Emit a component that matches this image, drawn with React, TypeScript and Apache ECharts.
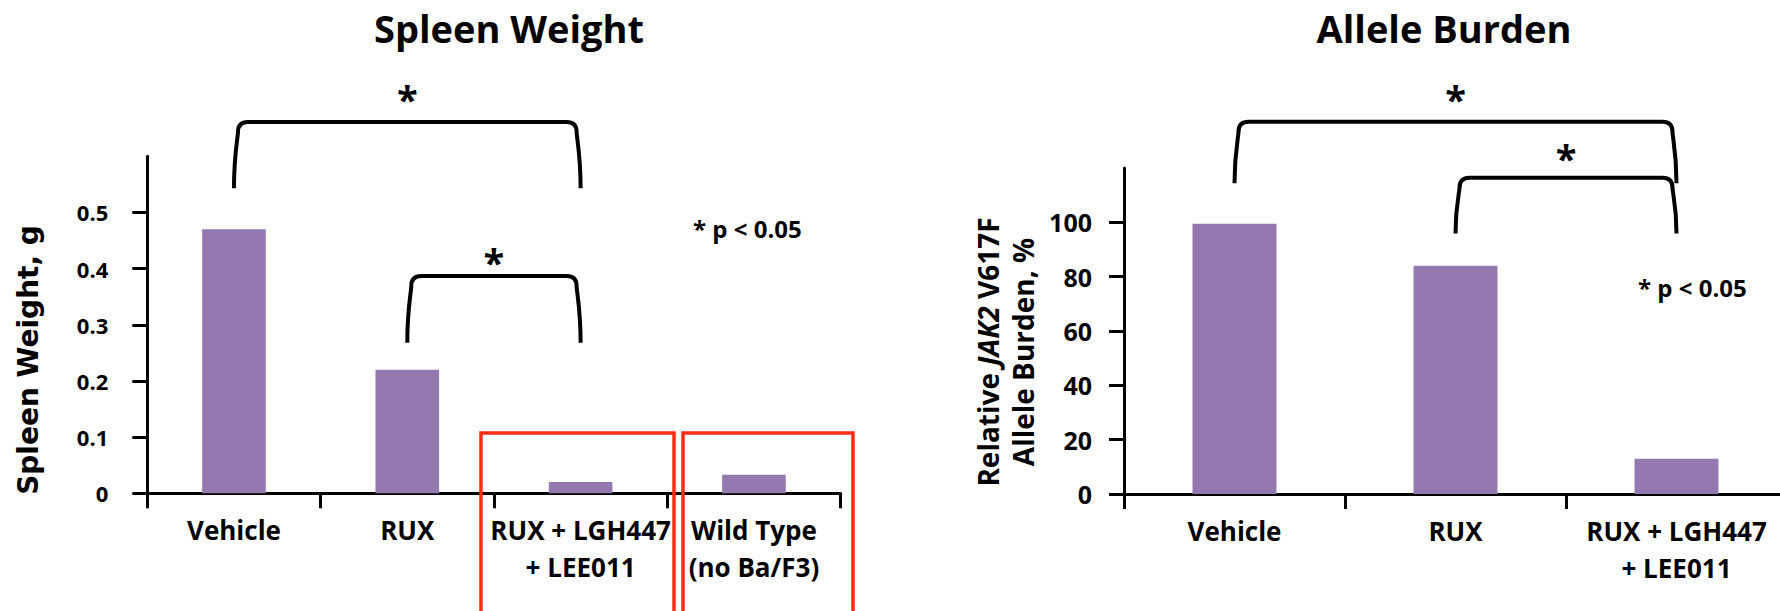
import React, { useEffect, useRef } from "react";
import * as echarts from "echarts";

// ---- Data ----
const spleenCategories = ["Vehicle", "RUX", "RUX + LGH447\n+ LEE011", "Wild Type\n(no Ba/F3)"];
const spleenWeights = [0.47, 0.22, 0.02, 0.033];
const spleenTicks = [0, 0.1, 0.2, 0.3, 0.4, 0.5];
// [fromCategory, toCategory, bracketTop, legBottom, asteriskY]
const spleenBrackets = [
  [0, 2, 0.661, 0.543, 0.714],
  [1, 2, 0.387, 0.268, 0.424],
];

const alleleCategories = ["Vehicle", "RUX", "RUX + LGH447\n+ LEE011"];
const alleleBurden = [99.5, 84, 13];
const alleleTicks = [0, 20, 40, 60, 80, 100];
const alleleBrackets = [
  [0, 2, 137, 114.4, 148],
  [1, 2, 116.4, 95.9, 126.3],
];

const spleenTitle = "Spleen Weight";
const alleleTitle = "Allele Burden";
const pNote = "* p < 0.05";

const FONT = '"Open Sans", sans-serif';
const BAR = "#9379B0";
const RED = "#FF2D14";

const renderBracket = (params: any, api: any) => {
  const a = api.coord([api.value(0), api.value(2)]);
  const b = api.coord([api.value(1), api.value(2)]);
  const yb = api.coord([api.value(0), api.value(3)])[1];
  const ys = api.coord([api.value(0), api.value(4)])[1];
  const r = 10;
  const lean = 4;
  const xl = a[0];
  const xr = b[0];
  const yt = a[1];
  const d =
    `M${xl},${yb} C${xl},${yt + (yb - yt) * 0.5} ${xl + lean},${yt + r * 1.5} ${xl + lean},${yt + r} ` +
    `Q${xl + lean},${yt} ${xl + lean + r},${yt} L${xr - lean - r},${yt} ` +
    `Q${xr - lean},${yt} ${xr - lean},${yt + r} C${xr - lean},${yt + r * 1.5} ${xr},${yt + (yb - yt) * 0.5} ${xr},${yb}`;
  return {
    type: "group",
    children: [
      {
        type: "path",
        shape: { pathData: d },
        style: { fill: "none", stroke: "#000", lineWidth: 4 },
      },
      {
        type: "text",
        x: (xl + xr) / 2,
        y: ys + 7,
        style: {
          text: "*",
          fill: "#000",
          fontFamily: FONT,
          fontWeight: "bold",
          fontSize: 38,
          align: "center",
          verticalAlign: "middle",
          textAlign: "center",
          textVerticalAlign: "middle",
        },
      },
    ],
  };
};

const axisLineStyle = { color: "#000", width: 3 };

function makeXAxis(gridIndex: number, data: string[]) {
  return {
    gridIndex,
    type: "category",
    data,
    axisLine: { show: true, lineStyle: axisLineStyle },
    axisTick: { show: true, length: 15, lineStyle: axisLineStyle },
    axisLabel: {
      interval: 0,
      margin: 18,
      color: "#000",
      fontFamily: FONT,
      fontWeight: "bold",
      fontSize: 26,
      lineHeight: 37,
    },
    splitLine: { show: false },
  };
}

export default function App() {
  const ref = useRef<HTMLDivElement>(null);

  useEffect(() => {
    if (!ref.current) return;
    const chart = echarts.init(ref.current, null, { renderer: "svg" });
    const option: any = {
      animation: false,
      backgroundColor: "#fff",
      title: [
        {
          text: spleenTitle,
          left: 509,
          top: 9,
          padding: 0,
          textAlign: "center",
          textStyle: { fontFamily: FONT, fontWeight: "bold", fontSize: 38, color: "#000" },
        },
        {
          text: alleleTitle,
          left: 1444,
          top: 9,
          padding: 0,
          textAlign: "center",
          textStyle: { fontFamily: FONT, fontWeight: "bold", fontSize: 38, color: "#000" },
        },
      ],
      grid: [
        { left: 147.3, top: 156.3, width: 693.3, height: 337, containLabel: false, outerBoundsMode: "none" },
        { left: 1124, top: 168, width: 663, height: 326, containLabel: false, outerBoundsMode: "none" },
      ],
      xAxis: [makeXAxis(0, spleenCategories), makeXAxis(1, alleleCategories)],
      yAxis: [
        {
          gridIndex: 0,
          type: "value",
          min: 0,
          max: 0.6,
          interval: 0.1,
          axisLine: { show: true, lineStyle: axisLineStyle },
          axisTick: { show: true, length: 15, lineStyle: axisLineStyle, customValues: spleenTicks },
          axisLabel: {
            customValues: spleenTicks,
            formatter: (v: number) => (v === 0 ? "0" : v.toFixed(1)),
            margin: 39,
            color: "#000",
            fontFamily: FONT,
            fontWeight: "bold",
            fontSize: 22,
          },
          splitLine: { show: false },
        },
        {
          gridIndex: 1,
          type: "value",
          min: 0,
          max: 120,
          interval: 20,
          axisLine: { show: true, lineStyle: axisLineStyle },
          axisTick: { show: true, length: 15, lineStyle: axisLineStyle, customValues: alleleTicks },
          axisLabel: {
            customValues: alleleTicks,
            margin: 32,
            color: "#000",
            fontFamily: FONT,
            fontWeight: "bold",
            fontSize: 25,
          },
          splitLine: { show: false },
        },
      ],
      series: [
        {
          type: "bar",
          xAxisIndex: 0,
          yAxisIndex: 0,
          data: spleenWeights,
          barWidth: "36.7%",
          itemStyle: { color: BAR },
          silent: true,
        },
        {
          type: "bar",
          xAxisIndex: 1,
          yAxisIndex: 1,
          data: alleleBurden,
          barWidth: "38%",
          itemStyle: { color: BAR },
          silent: true,
        },
        {
          type: "custom",
          xAxisIndex: 0,
          yAxisIndex: 0,
          data: spleenBrackets,
          encode: { x: 0, y: 2 },
          renderItem: renderBracket,
          clip: false,
          silent: true,
          z: 5,
        },
        {
          type: "custom",
          xAxisIndex: 1,
          yAxisIndex: 1,
          data: alleleBrackets,
          encode: { x: 0, y: 2 },
          renderItem: renderBracket,
          clip: false,
          silent: true,
          z: 5,
        },
      ],
      graphic: [
        {
          type: "text",
          x: 28,
          y: 360,
          rotation: Math.PI / 2,
          style: {
            text: "Spleen Weight, g",
            fill: "#000",
            fontFamily: '"DejaVu Sans", sans-serif',
            fontWeight: "bold",
            fontSize: 28,
            align: "center",
            verticalAlign: "middle",
            textAlign: "center",
            textVerticalAlign: "middle",
          },
        },
        {
          type: "text",
          x: 1005.5,
          y: 352,
          rotation: Math.PI / 2,
          style: {
            text: "Relative {i|JAK2} V617F\nAllele Burden, %",
            fill: "#000",
            fontFamily: FONT,
            fontWeight: "bold",
            fontSize: 28,
            lineHeight: 35,
            align: "center",
            verticalAlign: "middle",
            textAlign: "center",
            textVerticalAlign: "middle",
            rich: {
              i: {
                fontFamily: FONT,
                fontWeight: "bold",
                fontStyle: "italic",
                fontSize: 28,
                lineHeight: 35,
                fill: "#000",
              },
            },
          },
        },
        {
          type: "text",
          x: 693,
          y: 228,
          style: {
            text: pNote,
            fill: "#000",
            fontFamily: FONT,
            fontWeight: "bold",
            fontSize: 24,
            align: "left",
            verticalAlign: "middle",
            textAlign: "left",
            textVerticalAlign: "middle",
          },
        },
        {
          type: "text",
          x: 1638,
          y: 287,
          style: {
            text: pNote,
            fill: "#000",
            fontFamily: FONT,
            fontWeight: "bold",
            fontSize: 24,
            align: "left",
            verticalAlign: "middle",
            textAlign: "left",
            textVerticalAlign: "middle",
          },
        },
        {
          type: "rect",
          shape: { x: 481, y: 433, width: 193, height: 200 },
          style: { fill: "none", stroke: RED, lineWidth: 3.5 },
          z: 10,
        },
        {
          type: "rect",
          shape: { x: 683, y: 433, width: 170, height: 200 },
          style: { fill: "none", stroke: RED, lineWidth: 3.5 },
          z: 10,
        },
      ],
    };
    chart.setOption(option);
    return () => chart.dispose();
  }, []);

  return (
    <div
      ref={ref}
      style={{ position: "absolute", left: 0, top: 0, width: 1780, height: 611, background: "#fff" }}
    />
  );
}
